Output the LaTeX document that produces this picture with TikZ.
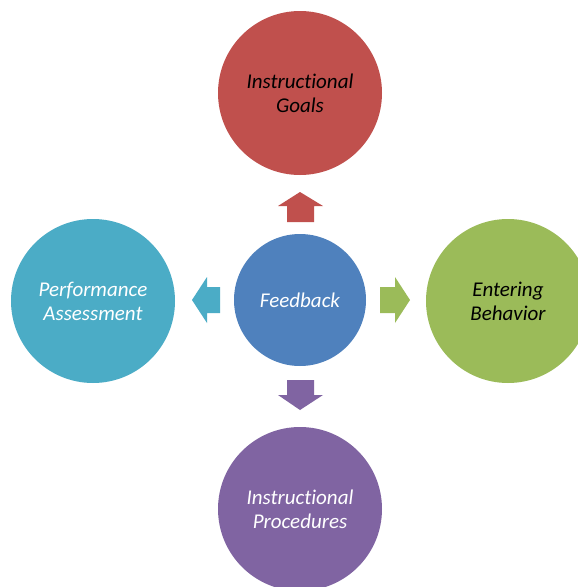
\documentclass[tikz,border=0pt]{standalone}
\usepackage{fontspec}
\setmainfont{Carlito}[Ligatures=NoCommon]
\usepackage{xcolor}
\usetikzlibrary{positioning}

\definecolor{goalred}{HTML}{C0504D}
\definecolor{entergreen}{HTML}{9BBB59}
\definecolor{feedblue}{HTML}{4F81BD}
\definecolor{assesscyan}{HTML}{4BACC6}
\definecolor{procpurple}{HTML}{8064A2}

\tikzset{
    stage/.style={circle, minimum size=164pt, inner sep=0pt, align=center,
        font=\fontsize{21}{24}\selectfont\itshape},
    hub/.style={stage, minimum size=132pt}
}

\begin{document}
\begin{tikzpicture}[x=1pt, y=-1pt]
        \clip (0,0) rectangle (578,587);
        \fill[white] (0,0) rectangle (578,587);
        % the five circles
        \node[hub, fill=feedblue, text=white] (feedback) at (300,300) {Feedback};
        \node[stage, fill=goalred, text=black] (goals) at (300,93) {Instructional\\Goals};
        \node[stage, fill=entergreen, text=black] (entering) at (508,301) {Entering\\Behavior};
        \node[stage, fill=procpurple, text=white] (procedures) at (300,509) {Instructional\\Procedures};
        \node[stage, fill=assesscyan, text=white] (assessment) at (93,301) {Performance\\Assessment};
        % block arrows
        \fill[goalred] (287,222)--(287,206)--(278,206)--(300,192)--(323,206)--(314,206)--(314,222)--cycle;
        \fill[entergreen] (380,287)--(395,287)--(395,277)--(410,300)--(395,323)--(395,313)--(380,313)--cycle;
        \fill[assesscyan] (220,287)--(207,287)--(207,277)--(192,300)--(207,323)--(207,313)--(220,313)--cycle;
        \fill[procpurple] (287,380)--(287,395)--(278,395)--(300,410)--(323,395)--(314,395)--(314,380)--cycle;
    \end{tikzpicture}
\end{document}
